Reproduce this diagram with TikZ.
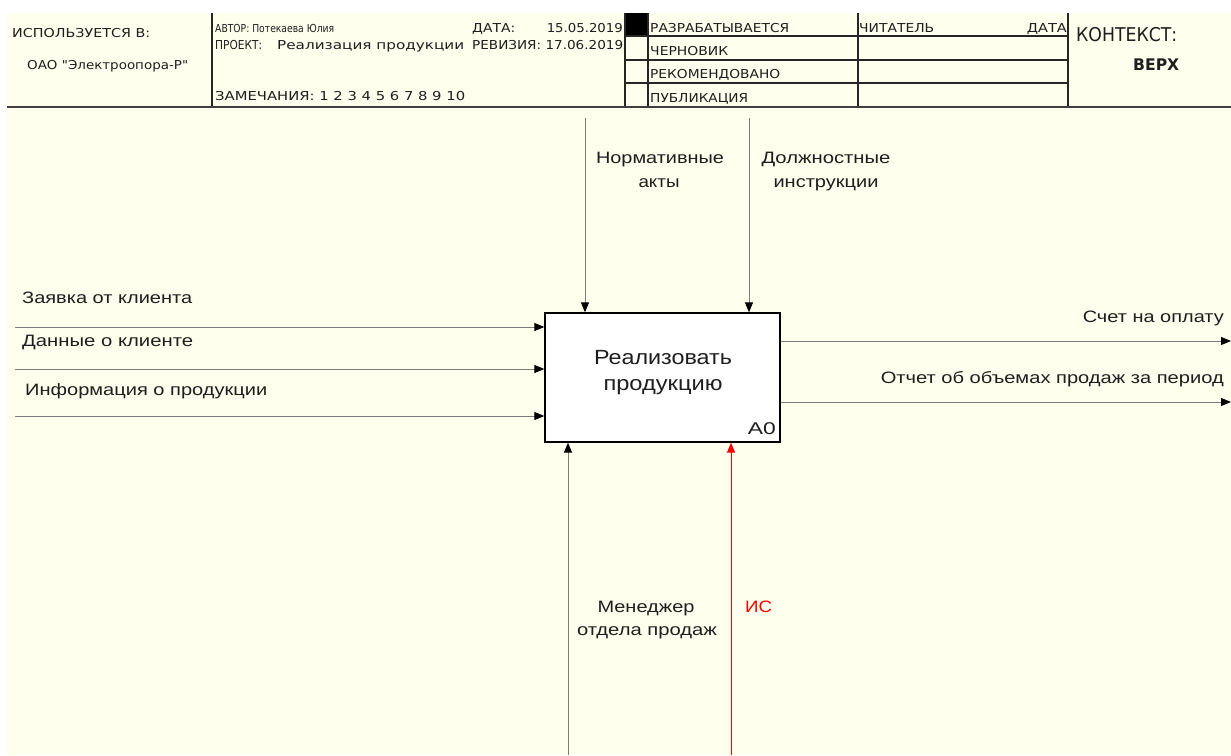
\documentclass[tikz,border=0pt]{standalone}
\usepackage{fontspec}
\setmainfont{Liberation Sans}
\newfontfamily\hdr{DejaVu Sans}
\usetikzlibrary{arrows.meta}
\definecolor{cream}{RGB}{255,255,238}
\definecolor{lnc}{RGB}{125,125,125}
\definecolor{txt}{RGB}{30,30,30}
\newcommand{\fw}[2]{\resizebox{#1pt}{\height}{#2}}
\begin{document}
\begin{tikzpicture}[x=1pt,y=-1pt,
  hd/.style={inner sep=0pt, text=txt, font=\hdr\fontsize{12.3}{14}\selectfont},
  lbl/.style={inner sep=0pt, text=txt, font=\fontsize{16.5}{19}\selectfont},
  boxt/.style={inner sep=0pt, text=txt, font=\fontsize{20.5}{24}\selectfont},
  hline/.style={line width=1.3pt, draw=black!85},
  flow/.style={draw=lnc, line width=0.9pt, -{Triangle[length=10pt,width=8pt,color=black]}},
  rflow/.style={draw=red, line width=0.9pt, -{Triangle[length=10pt,width=8pt,color=red]}},
  funcbox/.style={draw=black, line width=1.3pt, fill=white, minimum width=235pt, minimum height=129pt, inner sep=0pt},
]
\useasboundingbox (0,0) rectangle (1231,755);
\fill[cream] (7,13) rectangle (1231,755);

% header frame
\fill[black] (625,13) rectangle (648,36);
\draw[hline] (212,13) -- (212,107);
\draw[hline] (625,13) -- (625,107);
\draw[hline] (648,13) -- (648,107);
\draw[hline] (858,13) -- (858,107);
\draw[hline] (1068,13) -- (1068,107);
\draw[hline] (625,36) -- (1068,36);
\draw[hline] (625,60) -- (1068,60);
\draw[hline] (625,83) -- (1068,83);
\draw[line width=1.8pt, draw=black!75] (7,107) -- (1231,107);

% header texts
\node[hd, anchor=base west] (h1) at (12,37) {\fw{138}{ИСПОЛЬЗУЕТСЯ В:}};
\node[hd, anchor=base west] (h2) at (27,69) {\fw{161}{ОАО "Электроопора-Р"}};
\node[hd, anchor=base west, font=\hdr\fontsize{11}{13}\selectfont] (h3) at (215,32) {\fw{119}{АВТОР: Потекаева Юлия}};
\node[hd, anchor=base west] (h4) at (215,49) {\fw{47}{ПРОЕКТ:}};
\node[hd, anchor=base west] (h5) at (277,49) {\fw{187}{Реализация продукции}};
\node[hd, anchor=base west] (h6) at (215,100) {\fw{250}{ЗАМЕЧАНИЯ: 1 2 3 4 5 6 7 8 9 10}};
\node[hd, anchor=base west] (h7) at (472,32) {\fw{43}{ДАТА:}};
\node[hd, anchor=base east] (h8) at (623,32) {\fw{76}{15.05.2019}};
\node[hd, anchor=base west] (h9) at (472,49) {\fw{151}{РЕВИЗИЯ: 17.06.2019}};
\node[hd, anchor=base west] (s1) at (650,32) {\fw{139}{РАЗРАБАТЫВАЕТСЯ}};
\node[hd, anchor=base west] (s2) at (650,55) {\fw{78}{ЧЕРНОВИК}};
\node[hd, anchor=base west] (s3) at (650,78) {\fw{130}{РЕКОМЕНДОВАНО}};
\node[hd, anchor=base west] (s4) at (650,102) {\fw{98}{ПУБЛИКАЦИЯ}};
\node[hd, anchor=base west] (r1) at (859,32) {\fw{75}{ЧИТАТЕЛЬ}};
\node[hd, anchor=base east] (r2) at (1067,32) {\fw{40}{ДАТА}};
\node[hd, anchor=base west, font=\hdr\fontsize{19}{22}\selectfont] (k1) at (1076,41) {\fw{101}{КОНТЕКСТ:}};
\node[hd, anchor=base west, font=\hdr\bfseries\fontsize{16}{19}\selectfont] (k2) at (1133,70) {\fw{46}{ВЕРХ}};

% function box
\node[funcbox] (A0) at (662.5,377.5) {};
\node[boxt, anchor=base] (t1) at (663,364) {\fw{138}{Реализовать}};
\node[boxt, anchor=base] (t2) at (663,390) {\fw{119}{продукцию}};
\node[boxt, anchor=base east, font=\fontsize{17}{20}\selectfont] (t3) at (776,434) {\fw{28}{A0}};

% controls
\coordinate (c1) at (585,118);
\coordinate (c2) at (749,118);
\draw[flow] (c1) -- (c1 |- A0.north);
\draw[flow] (c2) -- (c2 |- A0.north);
\node[lbl, anchor=base] (cl1) at (660,163) {\fw{128}{Нормативные}};
\node[lbl, anchor=base] (cl2) at (659,187) {\fw{41}{акты}};
\node[lbl, anchor=base] (cl3) at (826,163) {\fw{129}{Должностные}};
\node[lbl, anchor=base] (cl4) at (826,187) {\fw{105}{инструкции}};

% inputs
\coordinate (i1) at (15,327);
\coordinate (i2) at (15,369);
\coordinate (i3) at (15,416);
\draw[flow] (i1) -- (i1 -| A0.west);
\draw[flow] (i2) -- (i2 -| A0.west);
\draw[flow] (i3) -- (i3 -| A0.west);
\node[lbl, anchor=base west] (il1) at (22,303) {\fw{170}{Заявка от клиента}};
\node[lbl, anchor=base west] (il2) at (22,346) {\fw{171}{Данные о клиенте}};
\node[lbl, anchor=base west] (il3) at (25,395) {\fw{242}{Информация о продукции}};

% outputs
\coordinate (o1) at (1231,341);
\coordinate (o2) at (1231,402);
\draw[flow] (o1 -| A0.east) -- (o1);
\draw[flow] (o2 -| A0.east) -- (o2);
\node[lbl, anchor=base east] (ol1) at (1224,322) {\fw{141}{Счет на оплату}};
\node[lbl, anchor=base east] (ol2) at (1224,383) {\fw{343}{Отчет об объемах продаж за период}};

% mechanisms
\coordinate (m1) at (568,755);
\coordinate (m2) at (731,755);
\draw[flow] (m1) -- (m1 |- A0.south);
\draw[rflow] (m2) -- (m2 |- A0.south);
\node[lbl, anchor=base] (ml1) at (646,612) {\fw{97}{Менеджер}};
\node[lbl, anchor=base] (ml2) at (647,635) {\fw{140}{отдела продаж}};
\node[lbl, anchor=base west, text=red] (ml3) at (745,612) {\fw{27}{ИС}};
\end{tikzpicture}
\end{document}
